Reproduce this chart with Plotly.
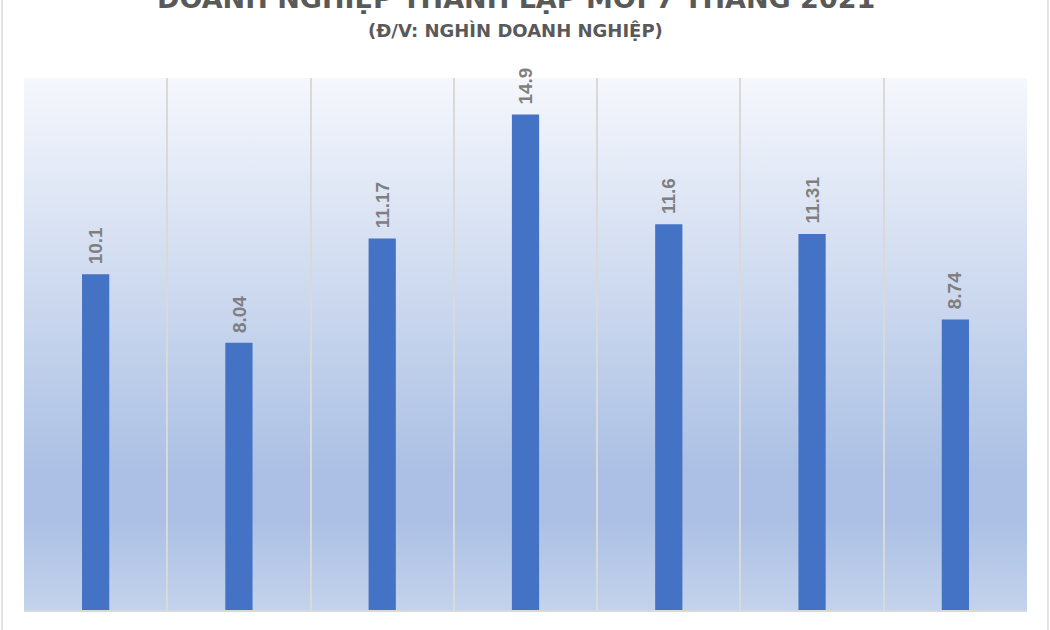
import base64
import plotly.graph_objects as go

# Data
categories = ["Tháng 1", "Tháng 2", "Tháng 3", "Tháng 4", "Tháng 5", "Tháng 6", "Tháng 7"]
values = [10.1, 8.04, 11.17, 14.9, 11.6, 11.31, 8.74]
value_labels = ["10.1", "8.04", "11.17", "14.9", "11.6", "11.31", "8.74"]
title_text = "DOANH NGHIỆP THÀNH LẬP MỚI 7 THÁNG 2021"
subtitle_text = "(Đ/V: NGHÌN DOANH NGHIỆP)"

# Gradient background (Excel "light gradient - accent 1")
svg = (
    '<svg xmlns="http://www.w3.org/2000/svg" width="100" height="100" preserveAspectRatio="none">'
    '<defs><linearGradient id="g" x1="0" y1="0" x2="0" y2="1">'
    '<stop offset="0" stop-color="#F5F7FC"/>'
    '<stop offset="0.74" stop-color="#ABC0E4"/>'
    '<stop offset="0.83" stop-color="#ABC0E4"/>'
    '<stop offset="1" stop-color="#C4D3EC"/>'
    '</linearGradient></defs>'
    '<rect width="100" height="100" fill="url(#g)"/></svg>'
)
svg_uri = "data:image/svg+xml;base64," + base64.b64encode(svg.encode()).decode()

fig = go.Figure()
fig.add_trace(go.Bar(
    x=categories, y=values,
    marker=dict(color="#4472C4", line=dict(width=0)),
    width=0.19,
    hoverinfo="x+y",
))

for c, v, t in zip(categories, values, value_labels):
    fig.add_annotation(
        x=c, y=v, text="<b>%s</b>" % t, showarrow=False,
        textangle=-90, yanchor="bottom", xanchor="center", yshift=8,
        font=dict(family="Liberation Sans, Arial", size=19, color="#7F7F7F"),
    )

fig.add_annotation(
    xref="paper", yref="paper", x=0.4905, y=1.0, yshift=80, xanchor="center", yanchor="middle",
    text="<b>%s</b>" % title_text, showarrow=False,
    font=dict(family="DejaVu Sans", size=27, color="#595959"),
)
fig.add_annotation(
    xref="paper", yref="paper", x=0.4905, y=1.0, yshift=48, xanchor="center", yanchor="middle",
    text="<b>%s</b>" % subtitle_text, showarrow=False,
    font=dict(family="DejaVu Sans", size=18, color="#595959"),
)

fig.add_layout_image(dict(
    source=svg_uri, xref="paper", yref="paper", x=0, y=1, sizex=1, sizey=1,
    sizing="stretch", layer="below", xanchor="left", yanchor="top",
))

# chart-area border lines (left and right)
for xp in [-0.0219, 1.0209]:
    fig.add_shape(type="line", xref="paper", yref="paper", x0=xp, x1=xp, y0=-0.1, y1=1.2,
                  line=dict(color="#D9D9D9", width=1.5))

fig.update_layout(
    width=1050, height=630,
    margin=dict(l=24, r=23, t=78, b=20, autoexpand=False),
    paper_bgcolor="white", plot_bgcolor="rgba(0,0,0,0)",
    showlegend=False,
    xaxis=dict(
        type="category", tickson="boundaries", showgrid=True, gridcolor="#D9D9D9", gridwidth=1.5,
        showline=True, linecolor="#D9D9D9", linewidth=1.5, ticks="",
        tickfont=dict(family="Liberation Sans, Arial", size=16, color="#595959"),
        ticklabelstandoff=17, automargin=False,
    ),
    yaxis=dict(range=[0, 16], visible=False, showgrid=False, zeroline=False, automargin=False),
)

fig.write_html(
    "out.html",
    config={"displayModeBar": False},
    post_script="document.body.style.margin='0';document.body.style.overflow='hidden';",
)
